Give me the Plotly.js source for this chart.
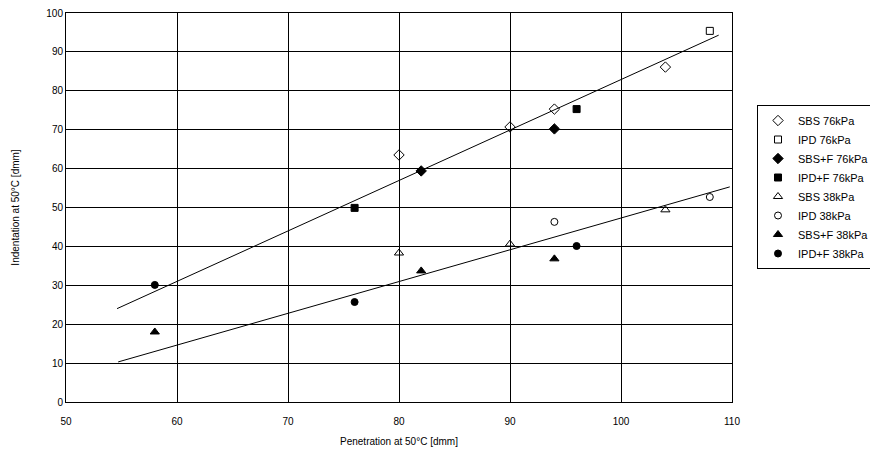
<!DOCTYPE html>
<html>
<head>
<meta charset="utf-8">
<script src="https://cdn.plot.ly/plotly-3.0.1.min.js"></script>
<style>html,body{margin:0;padding:0;background:#fff;}#chart{width:870px;height:459px;}</style>
</head>
<body>
<div id="chart"></div>
<script>
// Series data (penetration x, indentation y)
const sbs76X = [80, 90, 94, 104];
const sbs76Y = [63.5, 70.7, 75.3, 86.1];
const ipd76X = [108];
const ipd76Y = [95.4];
const sbsF76X = [82, 94];
const sbsF76Y = [59.4, 70.2];
const ipdF76X = [76, 96];
const ipdF76Y = [49.9, 75.3];
const sbs38X = [80, 90, 104];
const sbs38Y = [38.3, 40.6, 49.4];
const ipd38X = [94, 108];
const ipd38Y = [46.3, 52.7];
const sbsF38X = [58, 82, 94];
const sbsF38Y = [18.0, 33.7, 36.8];
const ipdF38X = [58, 76, 96];
const ipdF38Y = [30.1, 25.7, 40.1];
// Trend lines
const trend76X = [54.6, 108.8];
const trend76Y = [24.0, 94.3];
const trend38X = [54.7, 109.8];
const trend38Y = [10.3, 55.3];

const names = ['SBS 76kPa','IPD 76kPa','SBS+F 76kPa','IPD+F 76kPa','SBS 38kPa','IPD 38kPa','SBS+F 38kPa','IPD+F 38kPa'];

function pts(x, y, name, symbol, size) {
  return {x: x, y: y, name: name, type: 'scatter', mode: 'markers',
    marker: {symbol: symbol, size: size, color: '#000000',
      line: {color: '#000000', width: 1}}};
}

const traces = [
  {x: trend76X, y: trend76Y, type: 'scatter', mode: 'lines', line: {color: '#000', width: 1}, showlegend: false, hoverinfo: 'skip'},
  {x: trend38X, y: trend38Y, type: 'scatter', mode: 'lines', line: {color: '#000', width: 1}, showlegend: false, hoverinfo: 'skip'},
  pts(sbs76X, sbs76Y, names[0], 'diamond-open', 8),
  pts(ipd76X, ipd76Y, names[1], 'square-open', 7),
  pts(sbsF76X, sbsF76Y, names[2], 'diamond', 8),
  pts(ipdF76X, ipdF76Y, names[3], 'square', 7),
  pts(sbs38X, sbs38Y, names[4], 'triangle-up-open', 8),
  pts(ipd38X, ipd38Y, names[5], 'circle-open', 7),
  pts(sbsF38X, sbsF38Y, names[6], 'triangle-up', 8),
  pts(ipdF38X, ipdF38Y, names[7], 'circle', 7)
];

const font = {family: 'Liberation Sans, Arial, sans-serif', size: 10, color: '#000'};
const layout = {
  width: 870, height: 459,
  margin: {l: 66, r: 138, t: 13, b: 57},
  paper_bgcolor: '#fff', plot_bgcolor: '#fff',
  font: font,
  showlegend: true,
  xaxis: {range: [50, 110], dtick: 10, tick0: 50, showgrid: true, gridcolor: '#000', gridwidth: 1,
    zeroline: false, showline: true, linecolor: '#000', linewidth: 1, mirror: true,
    ticks: '', tickfont: font, ticklabelstandoff: 10,
    title: {text: 'Penetration at 50°C [dmm]', font: font, standoff: 11}},
  yaxis: {range: [0, 100], dtick: 10, tick0: 0, showgrid: true, gridcolor: '#000', gridwidth: 1,
    zeroline: false, showline: true, linecolor: '#000', linewidth: 1, mirror: true,
    ticks: '', tickfont: font,
    title: {text: 'Indentation at 50°C [dmm]', font: font, standoff: 24}},
  legend: {xref: 'container', yref: 'container', x: 757/870, y: 1 - 105/459, xanchor: 'left', yanchor: 'top',
    bordercolor: '#000', borderwidth: 1,
    bgcolor: '#fff', font: {family: 'Liberation Sans, Arial, sans-serif', size: 11, color: '#000'},
    itemwidth: 30, tracegroupgap: 0}
};
Plotly.newPlot('chart', traces, layout, {staticPlot: true});
</script>
</body>
</html>
